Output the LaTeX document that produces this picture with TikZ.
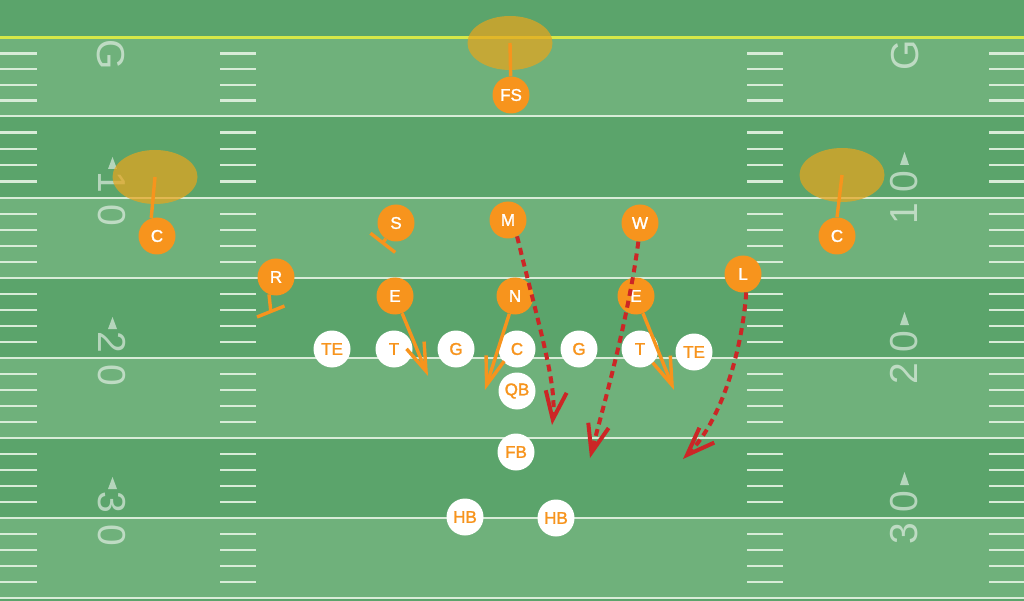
\documentclass[tikz,border=0pt]{standalone}
\usepackage{fontspec}
\setmainfont{Liberation Sans}
\newfontfamily\plfont[FakeBold=1.6]{Liberation Sans}
\usetikzlibrary{arrows.meta,shapes.geometric}
\definecolor{fdark}{RGB}{91,164,107}
\definecolor{flight}{RGB}{111,177,123}
\definecolor{fline}{RGB}{216,236,216}
\definecolor{goalline}{RGB}{214,232,72}
\definecolor{porange}{RGB}{247,148,29}
\definecolor{zonec}{RGB}{230,165,30}
\definecolor{rred}{RGB}{204,38,38}
\begin{document}
\begin{tikzpicture}[x=1pt,y=-1pt,
  defp/.style={circle,fill=porange,text=white,minimum size=37pt,inner sep=0pt,font=\plfont\fontsize{17}{17}\selectfont},
  offp/.style={circle,fill=white,text=porange,minimum size=37pt,inner sep=0pt,font=\plfont\fontsize{17}{17}\selectfont},
  zone/.style={ellipse,fill=zonec,fill opacity=0.72,minimum width=85pt,minimum height=54pt,inner sep=0pt},
  yardnum/.style={text=white,text opacity=0.55,inner sep=0pt,font=\fontsize{39}{39}\selectfont},
  yardline/.style={draw=fline,line width=2.6pt},
  hashmark/.style={draw=fline,line width=2.4pt},
  cover/.style={draw=porange,line width=3.4pt},
  block/.style={draw=porange,line width=3.4pt},
  rush/.style={draw=porange,line width=3.4pt,-{Straight Barb[length=28pt,width=19pt]}},
  blitz/.style={draw=rred,line width=4pt,dash pattern=on 7pt off 5pt,-{Straight Barb[length=28pt,width=21pt]}}]
\useasboundingbox (0,0) rectangle (1024,601);
% field
\fill[fdark] (0,0) rectangle (1024,601);
\foreach \a/\b in {38/116,198/278,358/438,518/598}{
  \fill[flight] (0,\a) rectangle (1024,\b);
}
\foreach \yl in {116,198,278,358,438,518,598}{
  \draw[yardline] (0,\yl) -- (1024,\yl);
}
\draw[draw=goalline,line width=3pt] (0,38) -- (1024,38);
% hash marks
\foreach \a/\b in {38/116,116/198,198/278,278/358,358/438,438/518,518/598}{
  \foreach \k in {1,2,3,4}{
    \pgfmathsetmacro\yy{\a+(\b-\a)*\k/5}
    \draw[hashmark] (0,\yy) -- (37,\yy) (220,\yy) -- (256,\yy) (747,\yy) -- (783,\yy) (989,\yy) -- (1024,\yy);
  }
}
% yard numbers
\node[yardnum,rotate=-90] (gl) at (111,55) {G};
\node[yardnum,rotate=90] (gr) at (905,55) {G};
\foreach \yl/\da/\db in {198/1/0,358/2/0,518/3/0}{
  \node[yardnum,rotate=-90] (nla\yl) at (112,\yl-16) {\da};
  \node[yardnum,rotate=-90] (nlb\yl) at (112,\yl+17) {\db};
  \node[yardnum,rotate=90] (nra\yl) at (904,\yl-16) {\db};
  \node[yardnum,rotate=90] (nrb\yl) at (904,\yl+16) {\da};
  \fill[white,opacity=0.55] (112.5,\yl-41) -- (108,\yl-29) -- (117,\yl-29) -- cycle;
  \fill[white,opacity=0.55] (904.5,\yl-46) -- (900,\yl-33) -- (909,\yl-33) -- cycle;
}
% zones
\node[zone] (zFS) at (510,43) {};
\node[zone] (zCL) at (155,177) {};
\node[zone] (zCR) at (842,175) {};
% defense
\node[defp] (FS) at (511,95) {FS};
\node[defp] (CL) at (157,236) {C};
\node[defp] (CR) at (837,236) {C};
\node[defp] (R) at (276,277) {R};
\node[defp] (S) at (396,223) {S};
\node[defp] (M) at (508,220) {M};
\node[defp] (W) at (640,223) {W};
\node[defp] (EL) at (395,296) {E};
\node[defp] (N) at (515,296) {N};
\node[defp] (ER) at (636,296) {E};
\node[defp] (L) at (743,274) {L};
% offense
\node[offp] (TEL) at (332,349) {TE};
\node[offp] (TL) at (394,349) {T};
\node[offp] (GL) at (456,349) {G};
\node[offp] (C) at (517,349) {C};
\node[offp] (GR) at (579,349) {G};
\node[offp] (TR) at (640,349) {T};
\node[offp] (TER) at (694,352) {TE};
\node[offp] (QB) at (517,391) {QB};
\node[offp] (FB) at (516,452) {FB};
\node[offp] (HBL) at (465,517) {HB};
\node[offp] (HBR) at (556,518) {HB};
% coverage drops
\draw[cover] (zFS.center) -- (FS);
\draw[cover] (zCL.center) -- (CL.108);
\draw[cover] (zCR.center) -- (CR.north);
% blocks
\coordinate (rB) at (270.8,311.3);
\coordinate (rB1) at (257,317);
\coordinate (rB2) at (284.5,306);
\draw[block] (R.-112) -- (rB);
\draw[block] (rB1) -- (rB2);
\coordinate (sB) at (382.8,242.8);
\coordinate (sB1) at (370.5,233.2);
\coordinate (sB2) at (395.2,252.4);
\draw[block] (S.-123) -- (sB);
\draw[block] (sB1) -- (sB2);
% line rushes
\coordinate (elEnd) at (428,376);
\coordinate (nEnd) at (485,390);
\coordinate (erEnd) at (674,390);
\draw[rush] (EL) -- (elEnd);
\draw[rush] (N) -- (nEnd);
\draw[rush] (ER) -- (erEnd);
% blitzes
\coordinate (mEnd) at (552,425);
\coordinate (wEnd) at (590,458);
\coordinate (lEnd) at (683,459);
\draw[blitz] (M.-61) .. controls (540,330) and (557,385) .. (mEnd);
\draw[blitz] (W.-95) .. controls (628,320) and (605,400) .. (wEnd);
\draw[blitz] (L.-80) .. controls (742,350) and (722,420) .. (lEnd);
\end{tikzpicture}
\end{document}
